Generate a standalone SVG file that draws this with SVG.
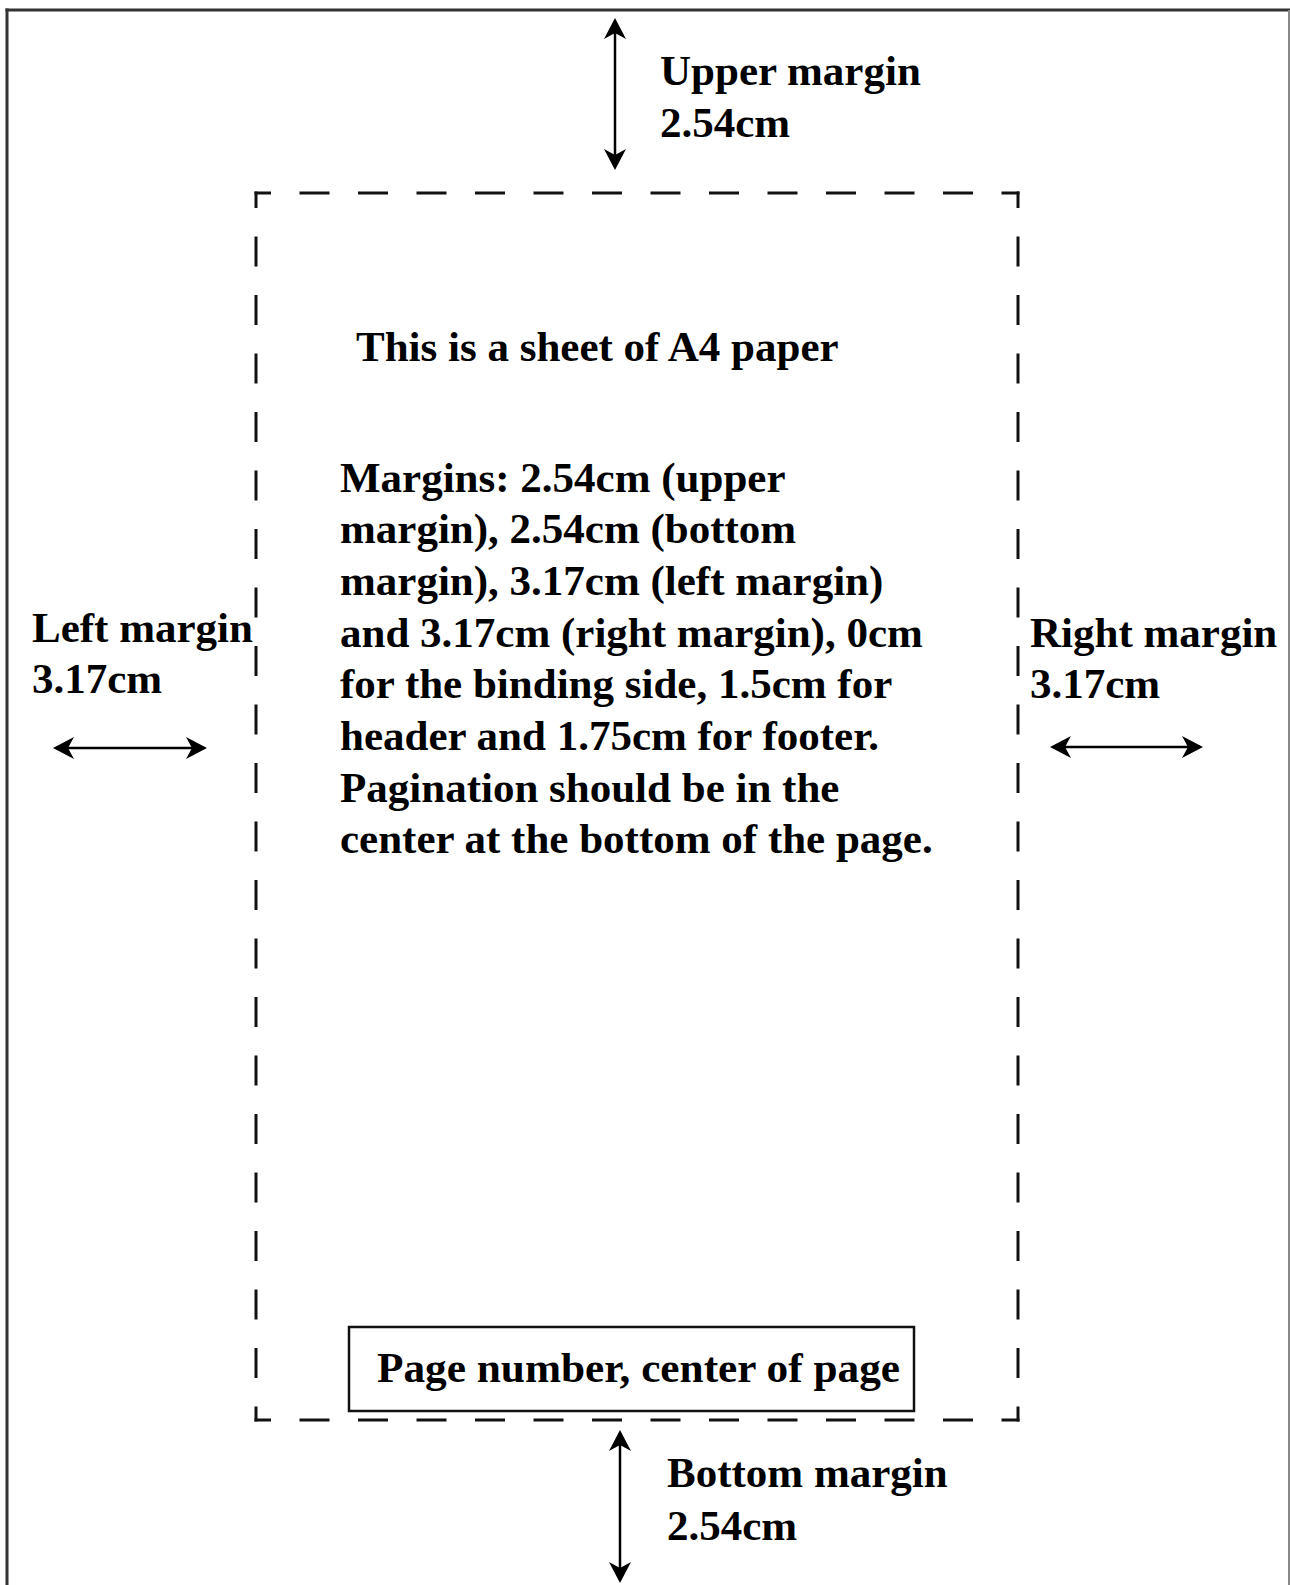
<svg xmlns="http://www.w3.org/2000/svg" width="1290" height="1585" viewBox="0 0 1290 1585">
  <style>
    .t { font-family: "Liberation Serif", "Times New Roman", serif; font-weight: bold; font-size: 43px; fill: #000; }
    .dash { stroke: #111; stroke-width: 3; stroke-dasharray: 27 31.5; stroke-dashoffset: 13.5; stroke-linecap: square; fill: none; }
    .arrow { stroke: #000; stroke-width: 2.5; fill: none; marker-start: url(#head); marker-end: url(#head); }
  </style>
  <defs>
    <marker id="head" markerUnits="userSpaceOnUse" viewBox="-23 -12 27 24" markerWidth="27" markerHeight="24" refX="-3" refY="0" orient="auto-start-reverse">
      <path d="M0,0 L-21,-11 L-15,0 L-21,11 Z" fill="#000"/>
    </marker>
  </defs>
  <rect width="1290" height="1585" fill="#fff"/>

  <g id="sheet-border">
    <line x1="5.5" y1="10" x2="1290" y2="10" stroke="#333" stroke-width="3"/>
    <line x1="7" y1="8.5" x2="7" y2="1585" stroke="#333" stroke-width="3"/>
    <line x1="1289" y1="10" x2="1289" y2="1585" stroke="#888" stroke-width="2"/>
  </g>

  <g id="text-area">
    <line class="dash" x1="256" y1="193" x2="1018" y2="193"/>
    <line class="dash" x1="256" y1="1420" x2="1018" y2="1420"/>
    <line class="dash" x1="256" y1="193" x2="256" y2="1420"/>
    <line class="dash" x1="1018" y1="193" x2="1018" y2="1420"/>
  </g>

  <g id="title">
    <text class="t" x="356" y="361">This is a sheet of A4 paper</text>
  </g>

  <g id="description">
    <text class="t" x="340" y="492">Margins: 2.54cm (upper</text>
    <text class="t" x="340" y="543">margin), 2.54cm (bottom</text>
    <text class="t" x="340" y="595">margin), 3.17cm (left margin)</text>
    <text class="t" x="340" y="647">and 3.17cm (right margin), 0cm</text>
    <text class="t" x="340" y="698">for the binding side, 1.5cm for</text>
    <text class="t" x="340" y="750">header and 1.75cm for footer.</text>
    <text class="t" x="340" y="802">Pagination should be in the</text>
    <text class="t" x="340" y="853">center at the bottom of the page.</text>
  </g>

  <g id="page-number">
    <rect x="349" y="1327" width="565" height="84" fill="none" stroke="#111" stroke-width="2.5"/>
    <text class="t" x="377" y="1382" textLength="523" lengthAdjust="spacingAndGlyphs">Page number, center of page</text>
  </g>

  <g id="upper-margin-label">
    <text class="t" x="660" y="85">Upper margin</text>
    <text class="t" x="660" y="137">2.54cm</text>
  </g>

  <g id="bottom-margin-label">
    <text class="t" x="667" y="1487">Bottom margin</text>
    <text class="t" x="667" y="1540">2.54cm</text>
  </g>

  <g id="left-margin-label">
    <text class="t" x="32" y="642">Left margin</text>
    <text class="t" x="32" y="693">3.17cm</text>
  </g>

  <g id="right-margin-label">
    <text class="t" x="1030" y="647">Right margin</text>
    <text class="t" x="1030" y="698">3.17cm</text>
  </g>

  <g id="connectors">
    <line class="arrow" x1="615" y1="21" x2="615" y2="167"/>
    <line class="arrow" x1="620" y1="1433" x2="620" y2="1580"/>
    <line class="arrow" x1="56" y1="748" x2="204" y2="748"/>
    <line class="arrow" x1="1053" y1="747" x2="1200" y2="747"/>
  </g>
</svg>
